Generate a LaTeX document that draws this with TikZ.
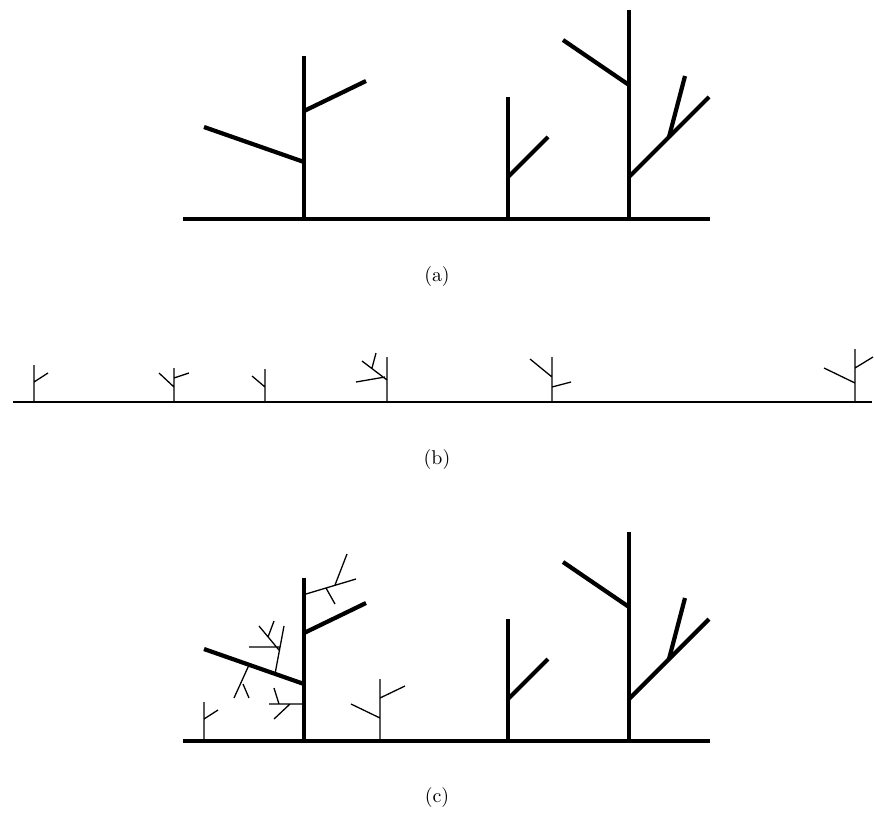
\documentclass[tikz,border=0pt]{standalone}
\usepackage{tikz}
\begin{document}
\begin{tikzpicture}[x=0.3mm,y=-0.3mm,
		ground/.style={line width=3.6pt},
		stem/.style={line width=3.6pt},
		twig/.style={line width=1.1pt},
		baseline/.style={line width=1.2pt},
		lab/.style={scale=1.7}]
		\useasboundingbox (0,0) rectangle (874,818);
		
		% 大树: (a) 与 (c) 相同
		\foreach \yo in {0,522}{
		\begin{scope}[shift={(0,\yo)}]
			\coordinate (G1) at (183,219);
			\coordinate (G2) at (710,219);
			\draw[ground] (G1) -- (G2);
			% 第一棵
			\coordinate (P) at (304,219);
			\coordinate (P1) at (304,162);
			\coordinate (P2) at (304,111);
			\draw[stem] (P) -- (304,56);
			\draw[stem] (P1) -- (204,127);
			\draw[stem] (P2) -- (366,81);
			% 第二棵
			\coordinate (Q) at (508,219);
			\coordinate (Q1) at (508,177);
			\draw[stem] (Q) -- (508,97);
			\draw[stem] (Q1) -- (548,137);
			% 第三棵
			\coordinate (S) at (629,219);
			\coordinate (S1) at (629,85);
			\coordinate (S2) at (629,177);
			\coordinate (S3) at (669,137);
			\draw[stem] (S) -- (629,10);
			\draw[stem] (S1) -- (563,40);
			\draw[stem] (S2) -- (709,97);
			\draw[stem] (S3) -- (685,76);
		\end{scope}}
		\node[lab] (la) at (437,277) {(a)};
		
		% (b) 小树
		\coordinate (B1) at (13,402);
		\coordinate (B2) at (872,402);
		\draw[baseline] (B1) -- (B2);
		\draw[twig] (34,402) -- (34,365) (34,382) -- (48,373);
		\draw[twig] (174,402) -- (174,368) (174,387) -- (159,373) (174,378) -- (189,373);
		\draw[twig] (265,402) -- (265,369) (265,387) -- (252,376);
		\draw[twig] (387,402) -- (387,357) (387,380) -- (362,361)
			(385,377) -- (356,382) (372,368) -- (376,353);
		\draw[twig] (552,402) -- (552,357) (552,377) -- (530,359) (552,387) -- (571,382);
		\draw[twig] (855,402) -- (855,349) (855,383) -- (824,368) (855,368) -- (873,357);
		\node[lab] (lb) at (437,460) {(b)};
		
		% (c) 新长出的枝
		\draw[twig] (204,741) -- (204,702) (204,719) -- (218,710);
		\draw[twig] (380,741) -- (380,679) (380,718) -- (351,704) (380,698) -- (405,686);
		\draw[twig] (249,665) -- (234,698) (243,684) -- (249,698);
		\draw[twig] (275,674) -- (284,626) (279,650) -- (259,626)
			(280,647) -- (249,647) (268,637) -- (274,621);
		\draw[twig] (304,704) -- (269,704) (290,704) -- (274,719) (279,704) -- (274,688);
		\draw[twig] (306,594) -- (356,579) (326,588) -- (335,604) (335,585) -- (347,554);
		\node[lab] (lc) at (437,798) {(c)};
	\end{tikzpicture}
\end{document}
